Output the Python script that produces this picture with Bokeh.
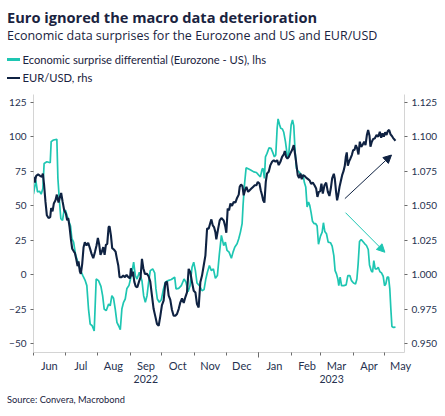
import pandas as pd
from bokeh.plotting import figure
from bokeh.layouts import column
from bokeh.models import (Range1d, LinearAxis, DatetimeAxis, FixedTicker, DatetimeTickFormatter,
                          NumeralTickFormatter, Arrow, NormalHead, ColumnDataSource, Div)
from bokeh.embed import file_html
from bokeh.resources import INLINE

# ---------------- data ----------------
START = "2022-06-01"          # day 0 of the day offsets below
END = "2023-05-19 16:00"      # right edge of the time axis

# Economic surprise differential (Eurozone - US), lhs
surprise_days = [0, 2.2, 3.8, 5.7, 7.3, 8.9, 10.1, 12.7, 15.9, 16.8, 19.0, 22.2, 23.2, 24.7, 26.0, 27.6,
                 28.9, 30.4, 32.0, 33.6, 35.2, 36.5, 38.1, 40.0, 42.2, 44.4, 46.9, 49.2, 50.7, 52.3, 53.9,
                 55.8, 57.7, 59.6, 61.8, 64.1, 65.7, 67.2, 69.1, 71.4, 72.9, 74.5, 76.1, 77.7, 79.3, 80.9,
                 82.5, 84.0, 85.6, 87.2, 88.8, 90.7,
                 93.0, 95.2, 96.8, 98.4, 100.6, 103.1, 104.7, 106.3, 107.9, 109.4, 111.0, 113.3, 115.2,
                 116.4, 117.7, 119.6, 121.5, 123.4, 125.3, 127.8, 131.0, 134.2, 135.5, 138.0, 140.5,
                 143.1, 145.0, 146.9, 148.8, 150.7, 152.3, 153.9, 155.4, 157.7, 160.2, 162.1, 163.7,
                 165.3, 167.2, 169.1, 171.0, 172.9, 174.8, 176.7, 178.6,
                 180.8, 182.4, 184.0, 185.9, 188.1, 189.7, 191.3, 193.5, 195.1, 196.7, 198.3, 199.2,
                 200.5, 202.1, 204.6, 206.8, 209.4, 211.9, 214.1, 215.7, 217.3, 218.3, 219.5, 220.5,
                 222.0, 223.9, 225.8, 227.4, 229.0, 230.3, 231.6, 232.5, 233.8, 235.0, 236.6, 237.9,
                 239.5, 241.1, 242.4, 243.6, 244.9, 246.2, 247.4, 248.7, 250.0, 251.5, 253.1, 254.7,
                 256.3, 257.5, 258.8, 260.1, 261.4, 262.6, 263.9, 265.2, 266.8, 268.3, 269.6, 270.9,
                 272.8, 274.4, 275.6, 276.9, 278.5, 280.1, 282.3, 283.9, 285.5, 286.7, 288.0, 289.3,
                 290.2, 291.5, 292.8, 295.0, 297.2, 298.8, 300.7, 302.3, 304.2, 306.1, 307.4, 308.6,
                 309.9, 311.5, 313.1, 314.9, 316.5, 318.2, 319.4, 321.0, 322.3, 323.5, 324.8, 326.4,
                 327.7, 329.2, 330.8, 332.4, 333.7, 334.9, 336.2, 337.5, 338.7, 339.7, 340.7, 342.2, 344.1]
surprise_vals = [58.3, 68.4, 60.0, 60.4, 58.3, 62.4, 80.6, 81.8, 81.1, 96.4, 97.6, 98.1, 69.7, 52.7, 40.5,
                 39.3, 45.9, 46.6, 42.5, 38.6, 35.2, 26.0, 23.5, 14.3, 9.0, 3.6, -0.7, -4.4, -8.0, -25.0,
                 -35.9, -37.1, -40.8, -3.2, -4.4, -8.5, -15.3, -25.0, -26.2, -21.4, -22.6, -15.3, -17.2,
                 -25.0, -34.7, -37.1, -40.0, -25.0, -20.1, -17.7, -10.0, -8.0,
                 -0.7, 9.0, -0.7, -3.2, 1.7, -4.4, -15.3, -20.1, -15.3, -5.6, 2.9, 4.1, 1.2, -10.4,
                 -17.7, -20.1, -18.2, -10.9, -5.6, -4.4, -3.6, -1.9, -10.4, -10.0, -8.0, -3.2, -5.6,
                 -12.4, -8.0, 5.3, 9.0, 2.9, -6.1, -8.0, -11.7, -10.9, -3.6, 1.7, 6.6, 2.9, 4.1, -2.7,
                 -0.7, 15.0, 28.4,
                 21.1, 23.5, 17.5, 16.3, 11.9, 16.3, 19.9, 22.3, 26.0, 30.8, 36.9, 50.2, 64.8, 77.4,
                 76.5, 75.7, 74.5, 74.0, 72.1, 70.9, 76.5, 76.9, 69.7, 85.4, 87.9, 92.0, 91.5, 88.6,
                 85.4, 86.7, 106.1, 112.9, 109.0, 106.1, 105.6, 103.2, 96.4, 87.1, 84.7, 96.4, 108.5,
                 112.1, 108.0, 89.1, 76.9, 75.0, 74.0, 71.6, 72.1, 66.7, 63.6, 49.0, 52.7, 50.2, 44.9,
                 38.6, 36.9, 36.9, 35.2, 22.0,
                 27.9, 30.8, 37.6, 31.3, 29.6, 23.5, 23.1, 20.6, 13.8, 2.9, 0.5, -3.2, -8.0, -1.9, -8.0,
                 -8.0, -7.5, -0.7, -0.7, -4.4, -6.1, -6.8, -3.2, 7.8, 24.0, 25.5, 24.0, 22.3, 21.1, 18.2,
                 7.0, 2.9, 1.7, 10.2, 4.1, 4.1, 5.3, 2.2, 1.2, -1.2, -8.0, -6.8, -1.9, -1.9, -10.4,
                 -25.0, -37.6, -38.3, -38.1]

# EUR/USD, rhs
eurusd_days = [0, 1.3, 2.5, 4.4, 6.3, 7.9, 8.9, 10.1, 11.4, 12.7, 14.3, 15.9, 16.8, 18.1, 19.3, 20.9, 22.2,
               23.8, 25.1, 26.3, 27.6, 29.2, 30.8, 32.0, 33.0, 34.3, 35.5, 36.8, 38.4, 39.3, 40.6, 41.9,
               42.8, 44.1, 45.0, 46.3, 47.6, 48.8, 50.4, 52.0, 53.6, 55.2, 56.8, 58.4, 59.9, 61.2, 62.5,
               63.7, 65.0, 66.3, 67.6, 68.8, 70.1, 71.4, 72.3, 73.6, 74.8, 76.4, 78.0, 79.3, 80.6, 81.8,
               83.7, 85.3, 86.9, 88.5, 90.1,
               91.7, 92.6, 93.6, 94.6, 95.8, 97.1, 98.7, 100.3, 101.8, 103.1, 104.4, 105.9, 107.9,
               109.4, 111.0, 112.6, 114.2, 115.8, 117.4, 119.0, 120.5, 122.1, 123.7, 125.3, 126.9,
               128.5, 130.0, 131.6, 133.2, 134.8, 136.4, 138.0, 139.6, 141.2, 142.8, 144.3, 145.9,
               147.5, 149.1, 150.7, 152.3, 153.9, 155.4, 157.0, 158.6, 160.2, 161.8, 163.4, 165.0,
               166.5, 168.1, 169.1, 170.4, 171.6, 172.9, 173.8, 175.4, 177.0, 178.6,
               180.8, 182.4, 183.3, 184.6, 185.9, 187.2, 188.7, 190.3, 191.9, 193.5, 195.1, 196.0,
               197.3, 198.6, 199.8, 201.1, 202.4, 204.0, 205.5, 207.1, 208.7, 210.3, 211.9, 213.2,
               214.8, 216.0, 217.3, 218.3, 219.5, 220.8, 222.0, 223.6, 225.2, 226.8, 228.4, 230.0,
               231.6, 233.1, 234.7, 236.3, 237.9, 238.9, 240.1, 241.4, 242.7, 244.2, 245.8, 247.4,
               248.7, 250.0, 251.2, 252.5, 253.8, 255.0, 256.3, 257.9, 259.4, 261.0, 262.6, 263.9,
               265.5, 267.1, 268.7, 269.9, 271.2,
               272.5, 273.7, 275.0, 276.6, 278.2, 279.8, 281.3, 282.6, 283.9, 285.5, 286.4, 287.7,
               288.6, 289.6, 290.9, 292.1, 293.4, 294.7, 295.9, 296.9, 297.8, 298.8, 300.1, 301.3,
               302.6, 303.9, 305.1, 306.4, 307.7, 308.9, 310.2, 311.5, 312.7, 314.3, 315.6, 316.9,
               318.1, 319.4, 320.3, 321.6, 322.9, 324.5, 326.1, 327.7, 329.2, 330.5, 331.8, 333.0,
               334.3, 335.6, 336.8, 338.1, 339.4, 340.7, 341.9, 343.5, 344.1]
eurusd_vals = [1.0709, 1.0667, 1.0716, 1.0726, 1.0716, 1.0709, 1.0733, 1.0648, 1.0527, 1.0430, 1.0410,
               1.0417, 1.0483, 1.0459, 1.0515, 1.0539, 1.0580, 1.0522, 1.0563, 1.0592, 1.0532, 1.0466,
               1.0442, 1.0393, 1.0410, 1.0345, 1.0260, 1.0187, 1.0167, 1.0158, 1.0114, 1.0061, 1.0095,
               1.0022, 1.0005, 1.0078, 1.0199, 1.0235, 1.0211, 1.0231, 1.0192, 1.0150, 1.0119, 1.0163,
               1.0211, 1.0265, 1.0216, 1.0143, 1.0167, 1.0199, 1.0143, 1.0216, 1.0223, 1.0345, 1.0350,
               1.0284, 1.0192, 1.0182, 1.0167, 1.0114, 1.0066, 0.9981, 0.9981, 0.9993, 0.9981, 0.9998,
               0.9981,
               0.9973, 1.0046, 0.9988, 1.0022, 0.9949, 0.9915, 0.9908, 0.9949, 0.9981, 1.0114, 1.0046,
               1.0005, 1.0005, 0.9988, 0.9949, 0.9847, 0.9750, 0.9697, 0.9641, 0.9629, 0.9697, 0.9779,
               0.9811, 0.9939, 0.9949, 0.9847, 0.9818, 0.9745, 0.9701, 0.9701, 0.9714, 0.9750, 0.9799,
               0.9828, 0.9794, 0.9835, 0.9871, 1.0041, 1.0017, 0.9944, 0.9883, 0.9871, 0.9786, 0.9762,
               0.9944, 0.9993, 1.0066, 1.0138, 1.0333, 1.0333, 1.0376, 1.0400, 1.0357, 1.0345, 1.0308,
               1.0255, 1.0328, 1.0393, 1.0410,
               1.0393, 1.0345, 1.0303, 1.0478, 1.0466, 1.0515, 1.0498, 1.0527, 1.0522, 1.0556, 1.0580,
               1.0636, 1.0653, 1.0643, 1.0575, 1.0612, 1.0636, 1.0600, 1.0612, 1.0624, 1.0636, 1.0648,
               1.0648, 1.0672, 1.0660, 1.0612, 1.0575, 1.0539, 1.0522, 1.0672, 1.0733, 1.0745, 1.0794,
               1.0818, 1.0830, 1.0818, 1.0830, 1.0794, 1.0818, 1.0854, 1.0871, 1.0896, 1.0854, 1.0842,
               1.0854, 1.0879, 1.0903, 1.0939, 1.0871, 1.0794, 1.0721, 1.0701, 1.0733, 1.0692, 1.0721,
               1.0714, 1.0701, 1.0692, 1.0682, 1.0658, 1.0667, 1.0648, 1.0624, 1.0563, 1.0600,
               1.0604, 1.0660, 1.0587, 1.0648, 1.0667, 1.0600, 1.0570, 1.0624, 1.0697, 1.0731, 1.0697,
               1.0595, 1.0539, 1.0575, 1.0636, 1.0677, 1.0721, 1.0750, 1.0789, 1.0854, 1.0886, 1.0789,
               1.0823, 1.0842, 1.0867, 1.0903, 1.0903, 1.0939, 1.0915, 1.0871, 1.0964, 1.0927, 1.0939,
               1.0964, 1.0939, 1.1012, 1.1049, 1.1007, 1.0927, 1.0964, 1.0983, 1.0988, 1.1012, 1.1000,
               1.1036, 1.0993, 1.1024, 1.1000, 1.1032, 1.1012, 1.1041, 1.1049, 1.1017, 1.1005, 1.0990,
               1.0976, 1.0971]

left_ticks = [-50, -25, 0, 25, 50, 75, 100, 125]
right_ticks = [0.950, 0.975, 1.000, 1.025, 1.050, 1.075, 1.100, 1.125]
month_starts = pd.date_range("2022-06-01", "2023-05-01", freq="MS")

# annotation arrows: (start day, start lhs value, end day, end lhs value)
arrow_up = (296.0, 55.1, 340.3, 86.7)
arrow_down = (296.6, 44.9, 334.0, 16.2)

TITLE = "Euro ignored the macro data deterioration"
SUBTITLE = "Economic data surprises for the Eurozone and US and EUR/USD"
LEG1 = "Economic surprise differential (Eurozone - US), lhs"
LEG2 = "EUR/USD, rhs"
SOURCE = "Source: Convera, Macrobond"

# ---------------- styling ----------------
TEAL = "#1ec6b2"
NAVY = "#0f2242"
TXT = "#1a2340"
LBL = "#26314f"
AX = "#d4d4d4"
FONT = "Lato"
W = 445          # width of every block
HEAD_H = 94      # header (title, subtitle, legend)
FOOT_H = 25      # footer (source)
Y_LO, Y_HI = -56.5, 130.6

start = pd.Timestamp(START)
end = pd.Timestamp(END)


def to_dates(days):
    return start + pd.to_timedelta(days, unit="D")


def ms(ts):
    return pd.Timestamp(ts).value / 1e6


def blank(fig):
    fig.outline_line_color = None
    fig.xgrid.visible = False
    fig.ygrid.visible = False
    fig.background_fill_color = "white"
    fig.border_fill_color = "white"


def txt(left, top, text, font, size, weight="normal", lh=None):
    lh = lh or f"{size}px"
    return (f'<div style="position:absolute;left:{left}px;top:{top}px;white-space:nowrap;'
            f"font-family:'{font}';font-size:{size}px;font-weight:{weight};line-height:{lh};"
            f'color:{TXT};margin:0;padding:0">{text}</div>')


def swatch(left, top, color):
    return (f'<div style="position:absolute;left:{left}px;top:{top}px;width:13px;height:2.6px;'
            f'background:{color}"></div>')


# ---------------- header: title, subtitle, legend ----------------
head_html = (f'<div style="position:relative;width:{W}px;height:{HEAD_H}px;margin:0;padding:0">'
             + txt(7, 9.7, TITLE, "Open Sans", 14.6, "bold")
             + txt(7, 30.2, SUBTITLE, "Open Sans", 12.5)
             + swatch(7, 58.2, TEAL) + txt(22.5, 51.6, LEG1, FONT, 11.2, lh="16px")
             + swatch(7, 76.6, NAVY) + txt(22.5, 70.0, LEG2, FONT, 11.2, lh="16px")
             + '</div>')
head = Div(text=head_html, width=W, height=HEAD_H, margin=(0, 0, 0, 0))

# ---------------- main chart ----------------
src_s = ColumnDataSource(dict(x=to_dates(surprise_days), y=surprise_vals))
src_e = ColumnDataSource(dict(x=to_dates(eurusd_days), y=eurusd_vals))

p = figure(frame_width=371, frame_height=258, x_axis_type="datetime", x_axis_location=None,
           x_range=Range1d(start, end), y_range=Range1d(Y_LO, Y_HI),
           output_backend="svg", toolbar_location=None,
           min_border_left=33, min_border_right=W - 33 - 371, min_border_top=0,
           min_border_bottom=35, margin=(0, 0, 0, 0))
p.extra_y_ranges = {"fx": Range1d(1 + Y_LO / 1000, 1 + Y_HI / 1000)}
blank(p)


def style_axis(ax, color):
    ax.axis_line_color = AX
    ax.axis_line_width = 1
    ax.major_tick_line_color = "#6b6b6b"
    ax.major_tick_out = 3
    ax.major_tick_in = 0
    ax.minor_tick_line_color = None
    ax.major_label_text_font = FONT
    ax.major_label_text_font_size = "10px"
    ax.major_label_text_color = color
    ax.major_label_standoff = 4


yl = p.yaxis[0]
yl.ticker = FixedTicker(ticks=left_ticks)
style_axis(yl, LBL)

yr = LinearAxis(y_range_name="fx", ticker=FixedTicker(ticks=right_ticks),
                formatter=NumeralTickFormatter(format="0.000"))
style_axis(yr, LBL)
p.add_layout(yr, "right")

# month boundary ticks (longer one at the year boundary)
year_starts = [d for d in month_starts if d.month == 1]
ax_ticks = DatetimeAxis(ticker=FixedTicker(ticks=[ms(d) for d in year_starts],
                                           minor_ticks=[ms(d) for d in month_starts]))
ax_ticks.axis_line_color = AX
ax_ticks.major_tick_line_color = "#6b6b6b"
ax_ticks.minor_tick_line_color = "#6b6b6b"
ax_ticks.major_tick_out = 5
ax_ticks.major_tick_in = 0
ax_ticks.minor_tick_out = 3
ax_ticks.minor_tick_in = 0
ax_ticks.major_label_text_font_size = "0px"
ax_ticks.major_label_text_alpha = 0
ax_ticks.major_label_standoff = 0
p.add_layout(ax_ticks, "below")

# month names centred in each month
mid_months = [d + pd.Timedelta(days=15) for d in month_starts]
ax_m = DatetimeAxis(ticker=FixedTicker(ticks=[ms(d) for d in mid_months]),
                    formatter=DatetimeTickFormatter(days="%b", months="%b", years="%b"))
ax_m.axis_line_color = None
ax_m.major_tick_line_color = None
ax_m.minor_tick_line_color = None
ax_m.major_tick_out = 0
ax_m.major_tick_in = 0
ax_m.major_label_text_font = FONT
ax_m.major_label_text_font_size = "11px"
ax_m.major_label_text_color = LBL
ax_m.major_label_standoff = 1
p.add_layout(ax_m, "below")

# year names centred under their visible span
yr2022 = pd.Timestamp("2022-12-31 12:00")
jan23 = pd.Timestamp("2023-01-01")
year_mid = [start + (yr2022 - start) / 2, jan23 + (end - jan23) / 2]
ax_y = DatetimeAxis(ticker=FixedTicker(ticks=[ms(d) for d in year_mid]),
                    formatter=DatetimeTickFormatter(days="%Y", months="%Y", years="%Y"))
ax_y.axis_line_color = None
ax_y.major_tick_line_color = None
ax_y.minor_tick_line_color = None
ax_y.major_tick_out = 0
ax_y.major_tick_in = 0
ax_y.major_label_text_font = FONT
ax_y.major_label_text_font_size = "10.5px"
ax_y.major_label_text_color = LBL
ax_y.major_label_standoff = 0
p.add_layout(ax_y, "below")

p.line("x", "y", source=src_s, line_color=TEAL, line_width=1.7)
p.line("x", "y", source=src_e, y_range_name="fx", line_color=NAVY, line_width=2.1)

for (d0, v0, d1, v1), col in ((arrow_up, NAVY), (arrow_down, TEAL)):
    p.add_layout(Arrow(x_start=ms(to_dates([d0])[0]), y_start=v0,
                       x_end=ms(to_dates([d1])[0]), y_end=v1,
                       line_color=col, line_width=1,
                       end=NormalHead(size=8, fill_color=col, line_color=col)))

# ---------------- footer: source ----------------
foot_html = (f'<div style="position:relative;width:{W}px;height:{FOOT_H}px;margin:0;padding:0">'
             + txt(7, 7.6, SOURCE, FONT, 9.3) + '</div>')
foot = Div(text=foot_html, width=W, height=FOOT_H, margin=(0, 0, 0, 0))

layout = column(head, p, foot, spacing=0)
open("out.html", "w").write(file_html(layout, INLINE))
